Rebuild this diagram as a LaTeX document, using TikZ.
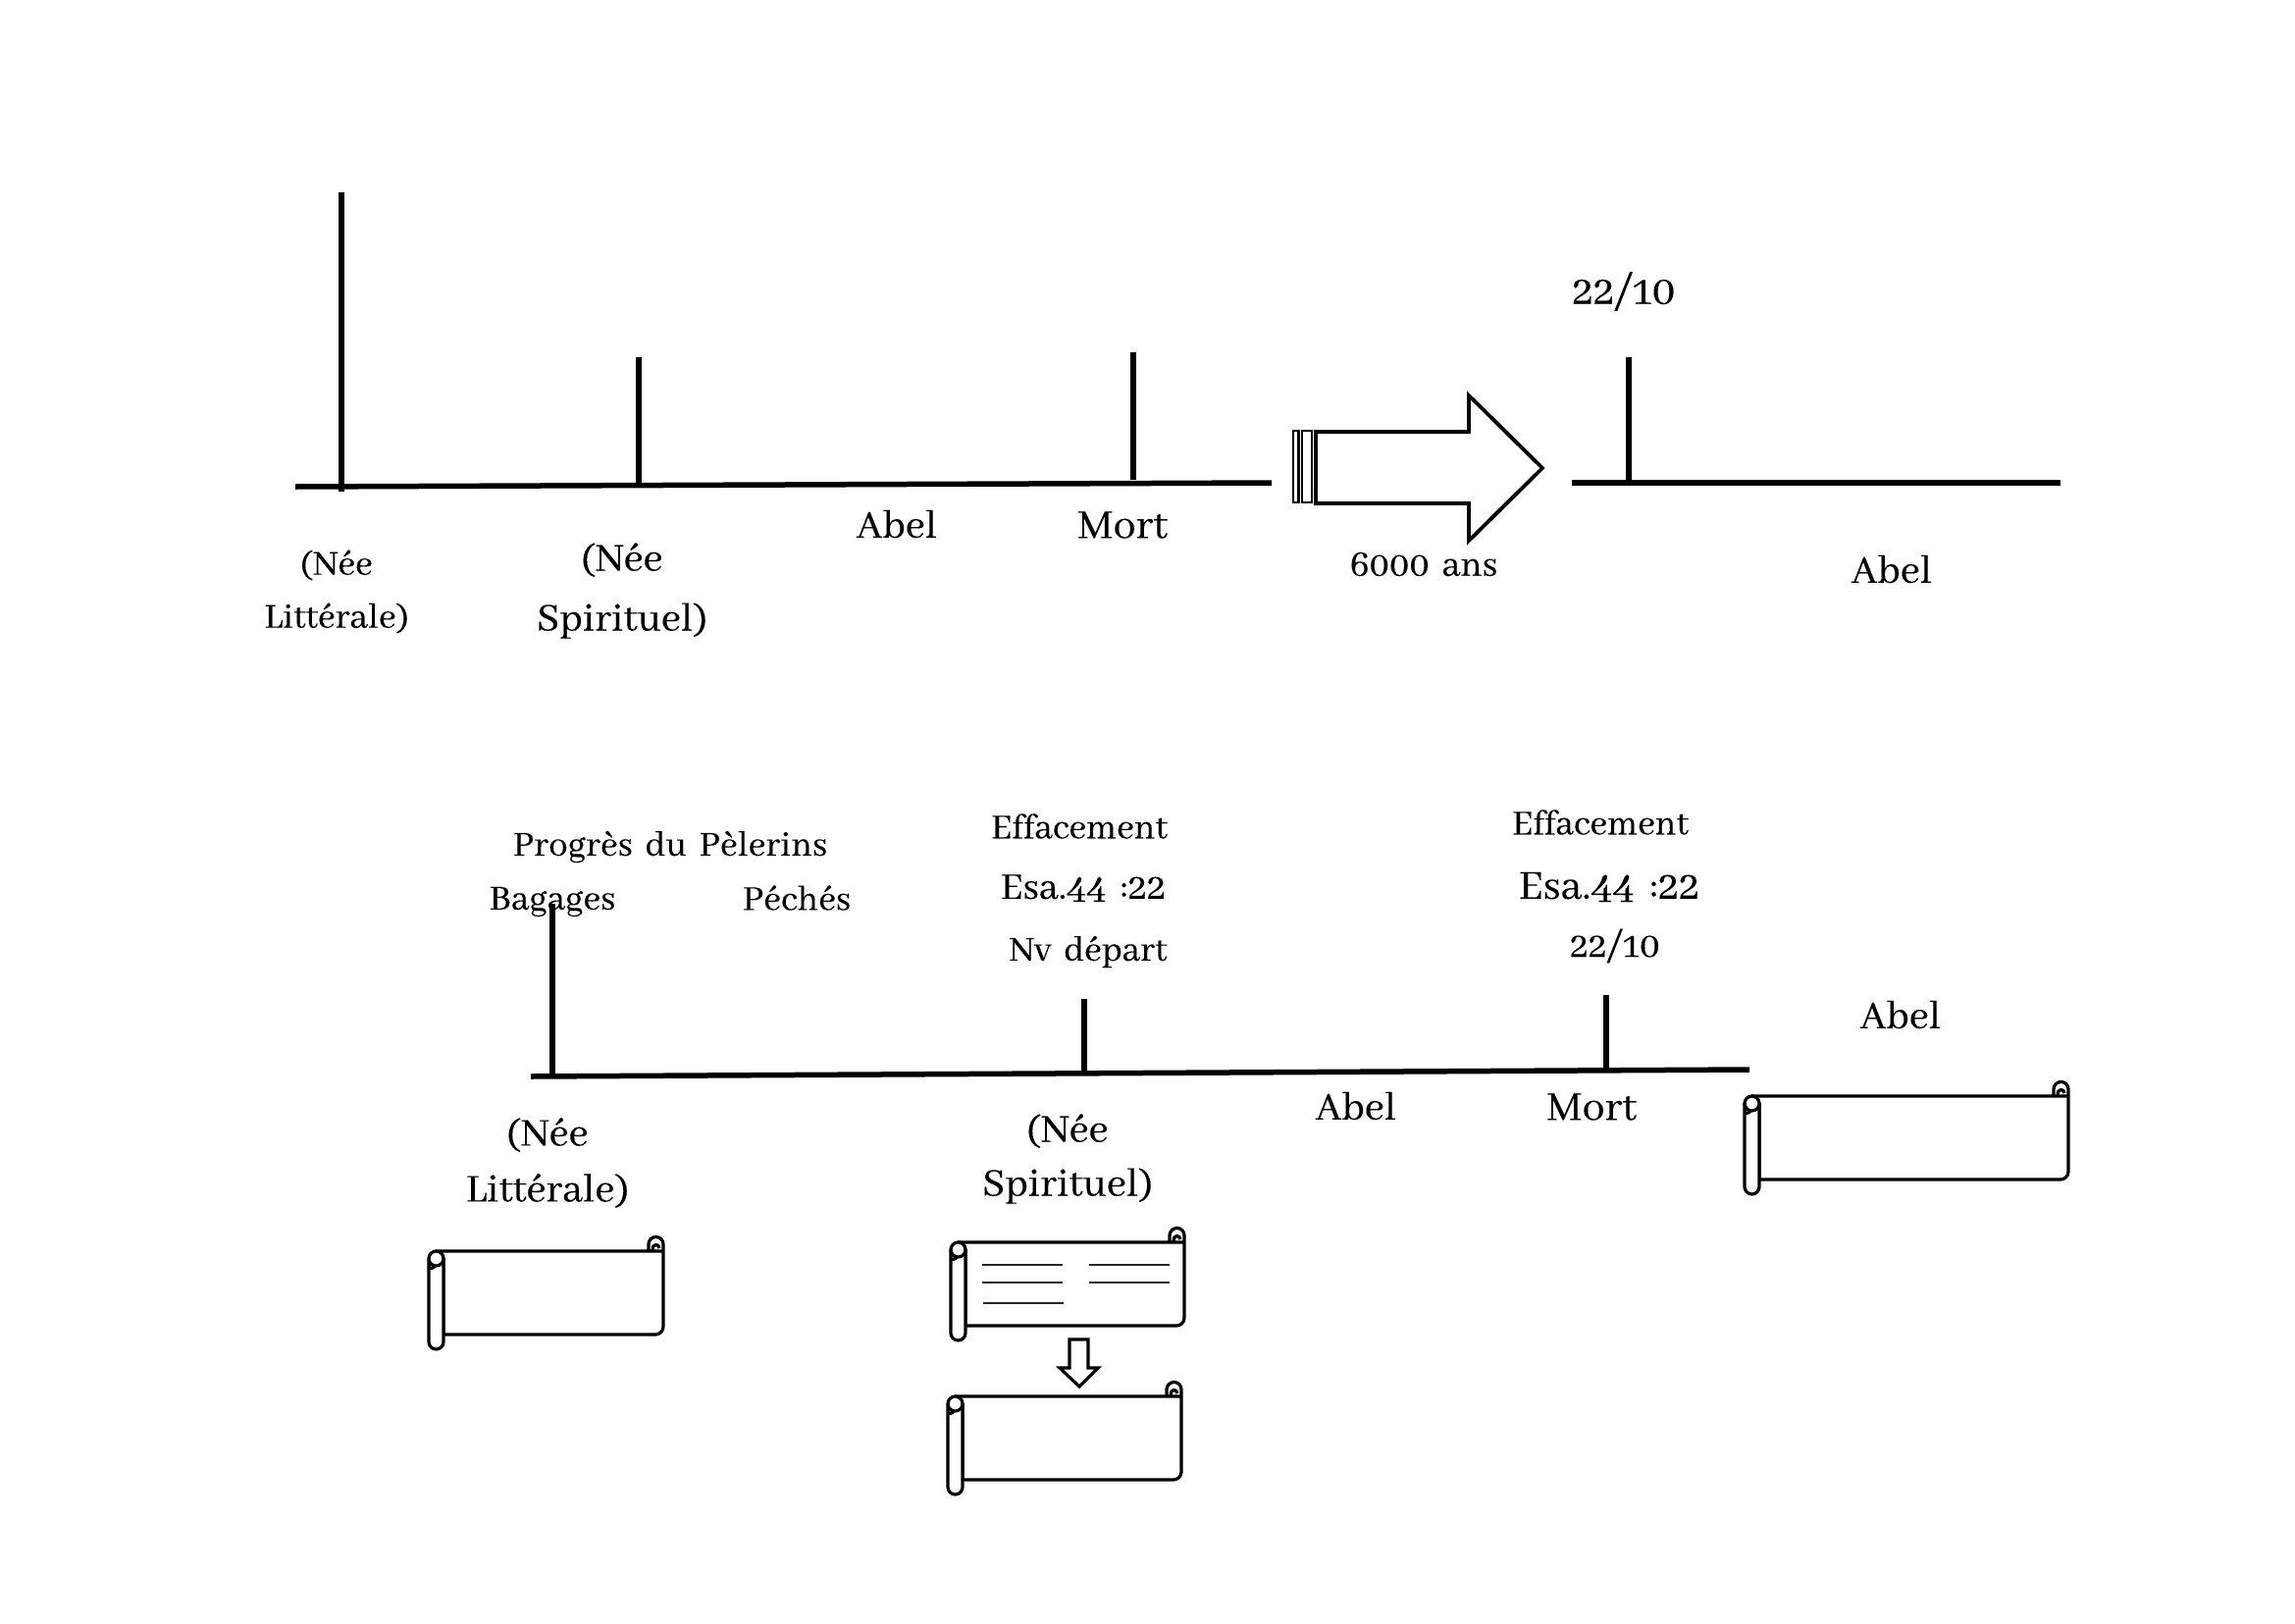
\documentclass[tikz,border=0pt]{standalone}
\usepackage{fontspec}
\setmainfont[WordSpace=1.7,FakeBold=0.2]{Abhaya Libre}
\tikzset{
  axisline/.style={line width=5.5pt,line cap=butt},
  blockline/.style={line width=3.8pt,miter limit=10,fill=white},
  stripe/.style={line width=2.6pt,fill=white},
  scrolline/.style={line width=3.2pt,line join=round,fill=white},
  rule/.style={line width=1.8pt,draw=black!85},
  big/.style={inner sep=0pt,align=center,font=\fontsize{44}{60}\selectfont},
  mid/.style={inner sep=0pt,align=center,font=\fontsize{46}{55}\selectfont},
  small/.style={inner sep=0pt,align=center,font=\fontsize{39}{54}\selectfont},
  pics/scrollshape/.style={code={
    \draw[scrolline] (7.5,0) -- (#1-15,0) -- (#1-15,-7) arc[start angle=180,end angle=360,radius=7.5] -- (#1,77) arc[start angle=0,end angle=90,radius=8] -- (15,85) -- (15,7.5) -- cycle;
    \draw[scrolline,fill=none] (#1-4,-3) arc[start angle=0,end angle=-200,radius=3.5] (#1-15,0) -- (#1,0);
    \draw[scrolline] (0,7.5) arc[start angle=180,end angle=360,radius=7.5] -- (15,92.5) arc[start angle=0,end angle=180,radius=7.5] -- cycle;
    \draw[scrolline,fill=none] (0,7.5) arc[start angle=180,end angle=0,radius=7.5];
    \draw[scrolline,fill=none] (6,14) arc[start angle=180,end angle=330,radius=-3.5];
  }}
}
\begin{document}
\begin{tikzpicture}[x=1pt,y=-1pt]
\useasboundingbox (0,0) rectangle (2339,1654);
% top timeline
\coordinate (a1) at (301,496); \coordinate (a2) at (1296,492);
\coordinate (b1) at (1602,492); \coordinate (b2) at (2100,492);
\draw[axisline] (a1) -- (a2);
\draw[axisline] (b1) -- (b2);
\coordinate (t1a) at (348,196); \coordinate (t1b) at (348,501);
\coordinate (t2a) at (651,364); \coordinate (t2b) at (651,495);
\coordinate (t3a) at (1155,359); \coordinate (t3b) at (1155,489);
\coordinate (t4a) at (1660,364); \coordinate (t4b) at (1660,492);
\draw[axisline] (t1a) -- (t1b);
\draw[axisline] (t2a) -- (t2b);
\draw[axisline] (t3a) -- (t3b);
\draw[axisline] (t4a) -- (t4b);
% block arrow
\draw[stripe] (1318,439) rectangle (1323.5,512);
\draw[stripe] (1327,439) rectangle (1337,512);
\draw[blockline] (1341,440) -- (1497,440) -- (1497,403) -- (1572,477) -- (1497,551) -- (1497,513) -- (1341,513) -- cycle;
% top labels
\node[small] (n1) at (343,603) {(Née\\Littérale)};
\node[big,font=\fontsize{44}{61}\selectfont] (n2) at (634,602) {(Née\\Spirituel)};
\node[big] (ab1) at (914,534) {Abel};
\node[big,font=\fontsize{46}{60}\selectfont] (mo1) at (1144,535) {Mort};
\node[small,font=\fontsize{40}{54}\selectfont] (ans) at (1451,575) {6000 ans};
\node[big,font=\fontsize{47}{60}\selectfont] (d1) at (1655,297) {22/10};
\node[big] (ab2) at (1928,580) {Abel};
% bottom timeline
\coordinate (c1) at (541,1097); \coordinate (c2) at (1783,1090);
\draw[axisline] (c1) -- (c2);
\coordinate (u1a) at (563,921); \coordinate (u1b) at (563,1097);
\coordinate (u2a) at (1105,1018); \coordinate (u2b) at (1105,1094);
\coordinate (u3a) at (1637,1014); \coordinate (u3b) at (1637,1091);
\draw[axisline] (u1a) -- (u1b);
\draw[axisline] (u2a) -- (u2b);
\draw[axisline] (u3a) -- (u3b);
\node[small] (p1) at (683,863) {Progrès du Pèlerins};
\node[small] (p2) at (563,919) {Bagages};
\node[small] (p3) at (812,915) {Péchés};
\node[small] (e1) at (1100,842) {Effacement};
\node[small,font=\fontsize{42}{54}\selectfont] (e2) at (1104,905) {Esa.44 :22};
\node[small] (e3) at (1109,970) {Nv départ};
\node[small] (f1) at (1631,838) {Effacement};
\node[mid] (f2) at (1640,904) {Esa.44 :22};
\node[small,font=\fontsize{41}{54}\selectfont] (f3) at (1646,964) {22/10};
\node[big] (ab3) at (1937,1034) {Abel};
\node[big] (ab4) at (1382,1127) {Abel};
\node[big,font=\fontsize{46}{60}\selectfont] (mo2) at (1622,1128) {Mort};
\node[big,font=\fontsize{44}{57}\selectfont] (n3) at (558,1185) {(Née\\Littérale)};
\node[big,font=\fontsize{44}{55}\selectfont] (n4) at (1088,1181) {(Née\\Spirituel)};
% scrolls
\pic at (437,1275) {scrollshape=239};
\pic at (969,1266) {scrollshape=238};
\pic at (966,1423) {scrollshape=238};
\pic at (1778,1117) {scrollshape=330};
\draw[rule] (1001,1289) -- (1083,1289);
\draw[rule] (1110,1289) -- (1192,1289);
\draw[rule] (1001,1307) -- (1083,1307);
\draw[rule] (1110,1307) -- (1192,1307);
\draw[rule] (1002,1328) -- (1084,1328);
% small arrow
\draw[scrolline,line join=miter] (1090,1365) -- (1109,1365) -- (1109,1394) -- (1119,1394) -- (1100,1413) -- (1080,1394) -- (1090,1394) -- cycle;
\end{tikzpicture}
\end{document}
